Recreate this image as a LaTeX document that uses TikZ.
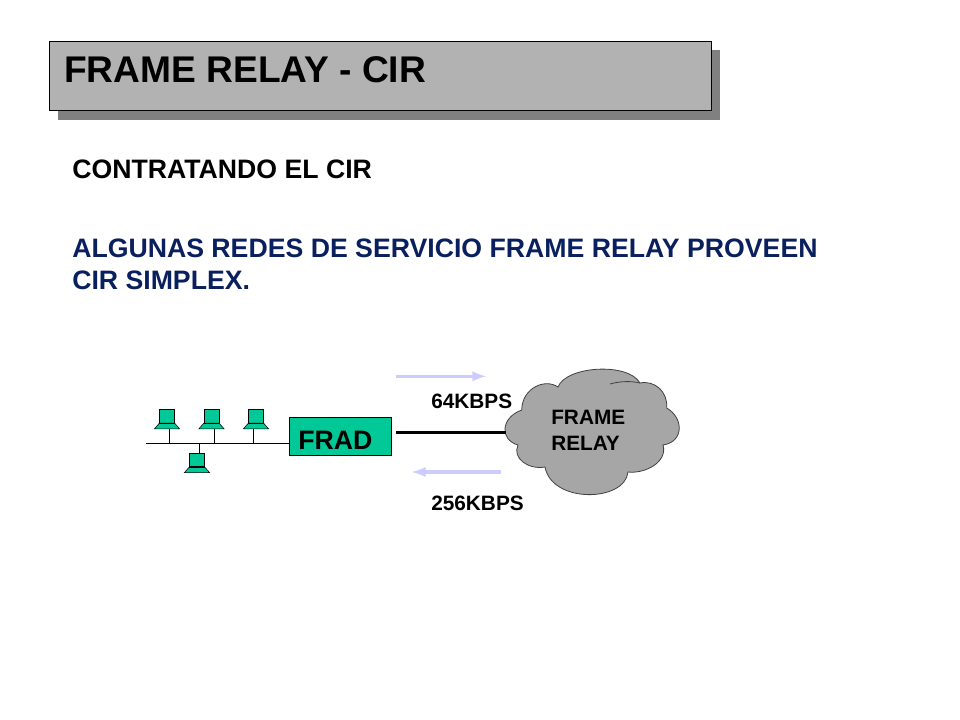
\documentclass[tikz,border=0pt]{standalone}
\usepackage{fontspec}
\usepackage{xcolor}
\setmainfont{Liberation Sans}
\definecolor{titlegray}{HTML}{B2B2B2}
\definecolor{shadowgray}{HTML}{808080}
\definecolor{cloudgray}{HTML}{A6A6A6}
\definecolor{fradgreen}{HTML}{00C896}
\definecolor{bodyblue}{HTML}{0A205E}
\definecolor{lavender}{HTML}{CCCCFF}
\tikzset{
  textlabel/.style={anchor=base west,inner sep=0pt,font=\bfseries\fontsize{15.6}{18}\selectfont},
  bodytext/.style={anchor=base west,inner sep=0pt,align=left,font=\bfseries\fontsize{20}{24}\selectfont},
  monitor/.style={draw=black,fill=fradgreen,minimum width=11pt,minimum height=10pt,inner sep=0pt,line width=.5pt},
  laptopbase/.style={draw=black,fill=fradgreen,line width=.4pt},
  ratearrow/.style={draw=lavender,line width=2.5pt,-latex}
}
\begin{document}
\begin{tikzpicture}[x=.75pt,y=-.75pt]
  \useasboundingbox (0,0) rectangle (960,720);
  % title
  \fill[shadowgray] (58,50) rectangle (720,120);
  \node[draw=black,fill=titlegray,line width=.75pt,minimum width=496.5pt,minimum height=52pt,inner sep=0pt] (titlebox) at (380.5,76) {};
  \node[anchor=base west,inner sep=0pt,font=\bfseries\fontsize{27.85}{32}\selectfont] (title) at (64,83) {FRAME RELAY - CIR};
  \node[bodytext] (contract) at (72,179) {CONTRATANDO EL CIR};
  \node[bodytext,text=bodyblue] (simplex) at (72,290) {ALGUNAS REDES DE SERVICIO FRAME RELAY PROVEEN\\CIR SIMPLEX.};
  % lan
  \node[draw=black,fill=fradgreen,line width=.75pt,minimum width=76.5pt,minimum height=28.5pt,inner sep=0pt] (frad) at (340.5,436.5) {};
  \node[anchor=base west,inner sep=0pt,font=\bfseries\fontsize{20}{22}\selectfont] (fradtext) at (298,449) {FRAD};
  \coordinate (busleft) at (146,443.3);
  \draw[line width=.75pt] (busleft) -- (busleft -| frad.west);
  \foreach \n/\x/\stem in {a/167/169.3,b/211.5/214,c/256/253}{
    \node[monitor] (mon\n) at (\x,416.2) {};
    \draw[laptopbase] (mon\n.south west) -- ++(-5,5.7) -- ++(25.3,0) -- (mon\n.south east) -- cycle;
    \draw[line width=1pt] (mon\n.south west) -- (mon\n.south east);
    \coordinate (stem\n) at (\stem,428.7);
    \draw[line width=.6pt] (stem\n) -- (stem\n |- busleft);
  }
  \node[monitor] (mond) at (197,460) {};
  \draw[laptopbase] (mond.south west) -- ++(-5,5.7) -- ++(25.3,0) -- (mond.south east) -- cycle;
  \draw[line width=1pt] (mond.south west) -- (mond.south east);
  \coordinate (stemd) at (199.3,453);
  \draw[line width=.6pt] (stemd) -- (stemd |- busleft);
  % cloud
  \coordinate (cloudleft) at (506,432.3);
  \coordinate (fradlink) at (396,432.3);
  \draw[fill=cloudgray,draw=black!75,line width=.6pt]
    (521.7,410) .. controls (522,388) and (545,378) .. (558,387)
    .. controls (566,366) and (628,362) .. (640,383)
    .. controls (655,380) and (668,392) .. (666.7,408)
    .. controls (684,418) and (684,442) .. (663,445)
    .. controls (668,462) and (645,474) .. (628,472)
    .. controls (625,502) and (552,504) .. (545,467)
    .. controls (528,470) and (512,458) .. (518,445)
    .. controls (500,440) and (500,418) .. (521.7,410) -- cycle;
  \draw[draw=black!75,line width=.6pt] (610,384) .. controls (620,381) and (632,381) .. (640,383);
  \draw[line width=2.2pt] (fradlink) -- (cloudleft);
  \node[textlabel] (cloudtext) at (551,424.5) {FRAME};
  \node[textlabel] (cloudtexttwo) at (551,450) {RELAY};
  % rates
  \coordinate (upstart) at (396,376.3);
  \coordinate (upend) at (486,376.3);
  \coordinate (downstart) at (501,472);
  \coordinate (downend) at (412,472);
  \draw[ratearrow] (upstart) -- (upend);
  \draw[ratearrow] (downstart) -- (downend);
  \node[textlabel] (rateup) at (431,408) {64KBPS};
  \node[textlabel] (ratedown) at (431,510) {256KBPS};
\end{tikzpicture}
\end{document}
